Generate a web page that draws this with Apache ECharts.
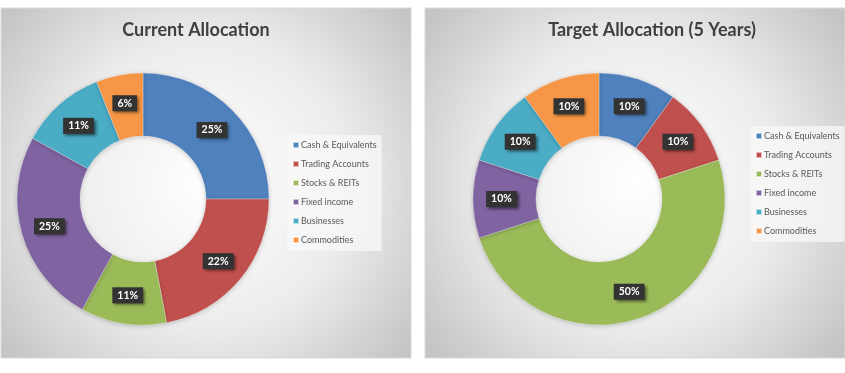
<!DOCTYPE html>
<html><head><meta charset="utf-8">
<script src="https://cdn.jsdelivr.net/npm/echarts@6/dist/echarts.min.js"></script>
<style>html,body{margin:0;padding:0;background:#fff}#c{width:845px;height:373px}</style>
</head><body><div id="c"></div>
<script>
const categories = ['Cash & Equivalents','Trading Accounts','Stocks & REITs','Fixed income','Businesses','Commodities'];
const currentValues = [25,22,11,25,11,6];
const targetValues = [10,10,50,10,10,10];
const titles = ['Current Allocation','Target Allocation (5 Years)'];
const colors = ['#4F81BD','#C0504D','#9BBB59','#8064A2','#4BACC6','#F79646'];

const chart = echarts.init(document.getElementById('c'));
const FONT = 'Lato, "Open Sans", sans-serif';
function panelBg(){
  return new echarts.graphic.RadialGradient(0.5,0.5,0.75,[
    {offset:0,color:'#ffffff'},{offset:0.55,color:'#ececec'},{offset:1,color:'#c4c4c4'}]);
}
function labelCfg(){
  return {show:true,position:'inside',formatter:'{d}%',color:'#fff',fontWeight:'bold',fontSize:10.5,fontFamily:FONT,
    backgroundColor:'#333333',padding:[3,5,2,5],shadowColor:'rgba(0,0,0,0.55)',shadowBlur:3,shadowOffsetX:2,shadowOffsetY:2};
}
function legendCfg(left,top){
  return {orient:'vertical',left:left,top:top,data:categories,icon:'rect',itemWidth:6,itemHeight:6,itemGap:7,
    padding:[4,5,5,5],backgroundColor:'rgba(248,248,248,0.75)',
    textStyle:{fontSize:9,color:'#595959',fontFamily:FONT,lineHeight:12,padding:[0,0,0,-3]},selectedMode:false};
}
function mk(vals){return categories.map((n,i)=>({name:n,value:vals[i]}));}
chart.setOption({
  color:colors,
  animation:false,
  graphic:[
    {type:'rect',z:-10,shape:{x:1,y:8,width:410,height:350},style:{fill:panelBg(),stroke:'#d9d9d9',lineWidth:1}},
    {type:'rect',z:-10,shape:{x:425,y:8,width:420,height:350},style:{fill:panelBg(),stroke:'#d9d9d9',lineWidth:1}}
  ],
  title:[
    {text:titles[0],left:191,top:16,textAlign:'center',textStyle:{fontSize:18,fontWeight:'bold',color:'#404040',fontFamily:FONT}},
    {text:titles[1],left:647,top:16,textAlign:'center',textStyle:{fontSize:18,fontWeight:'bold',color:'#404040',fontFamily:FONT}}
  ],
  legend:[legendCfg(287,135),legendCfg(750,126)],
  series:[
    {type:'pie',center:[143,199],radius:[63,126],startAngle:90,clockwise:true,data:mk(currentValues),
     label:labelCfg(),labelLine:{show:false},
     itemStyle:{borderColor:'rgba(255,255,255,0.6)',borderWidth:0.5,shadowColor:'rgba(0,0,0,0.2)',shadowBlur:4,shadowOffsetY:1},emphasis:{disabled:true}},
    {type:'pie',center:[599,199],radius:[63,126],startAngle:90,clockwise:true,data:mk(targetValues),
     label:labelCfg(),labelLine:{show:false},
     itemStyle:{borderColor:'rgba(255,255,255,0.6)',borderWidth:0.5,shadowColor:'rgba(0,0,0,0.2)',shadowBlur:4,shadowOffsetY:1},emphasis:{disabled:true}}
  ]
});
</script></body></html>
